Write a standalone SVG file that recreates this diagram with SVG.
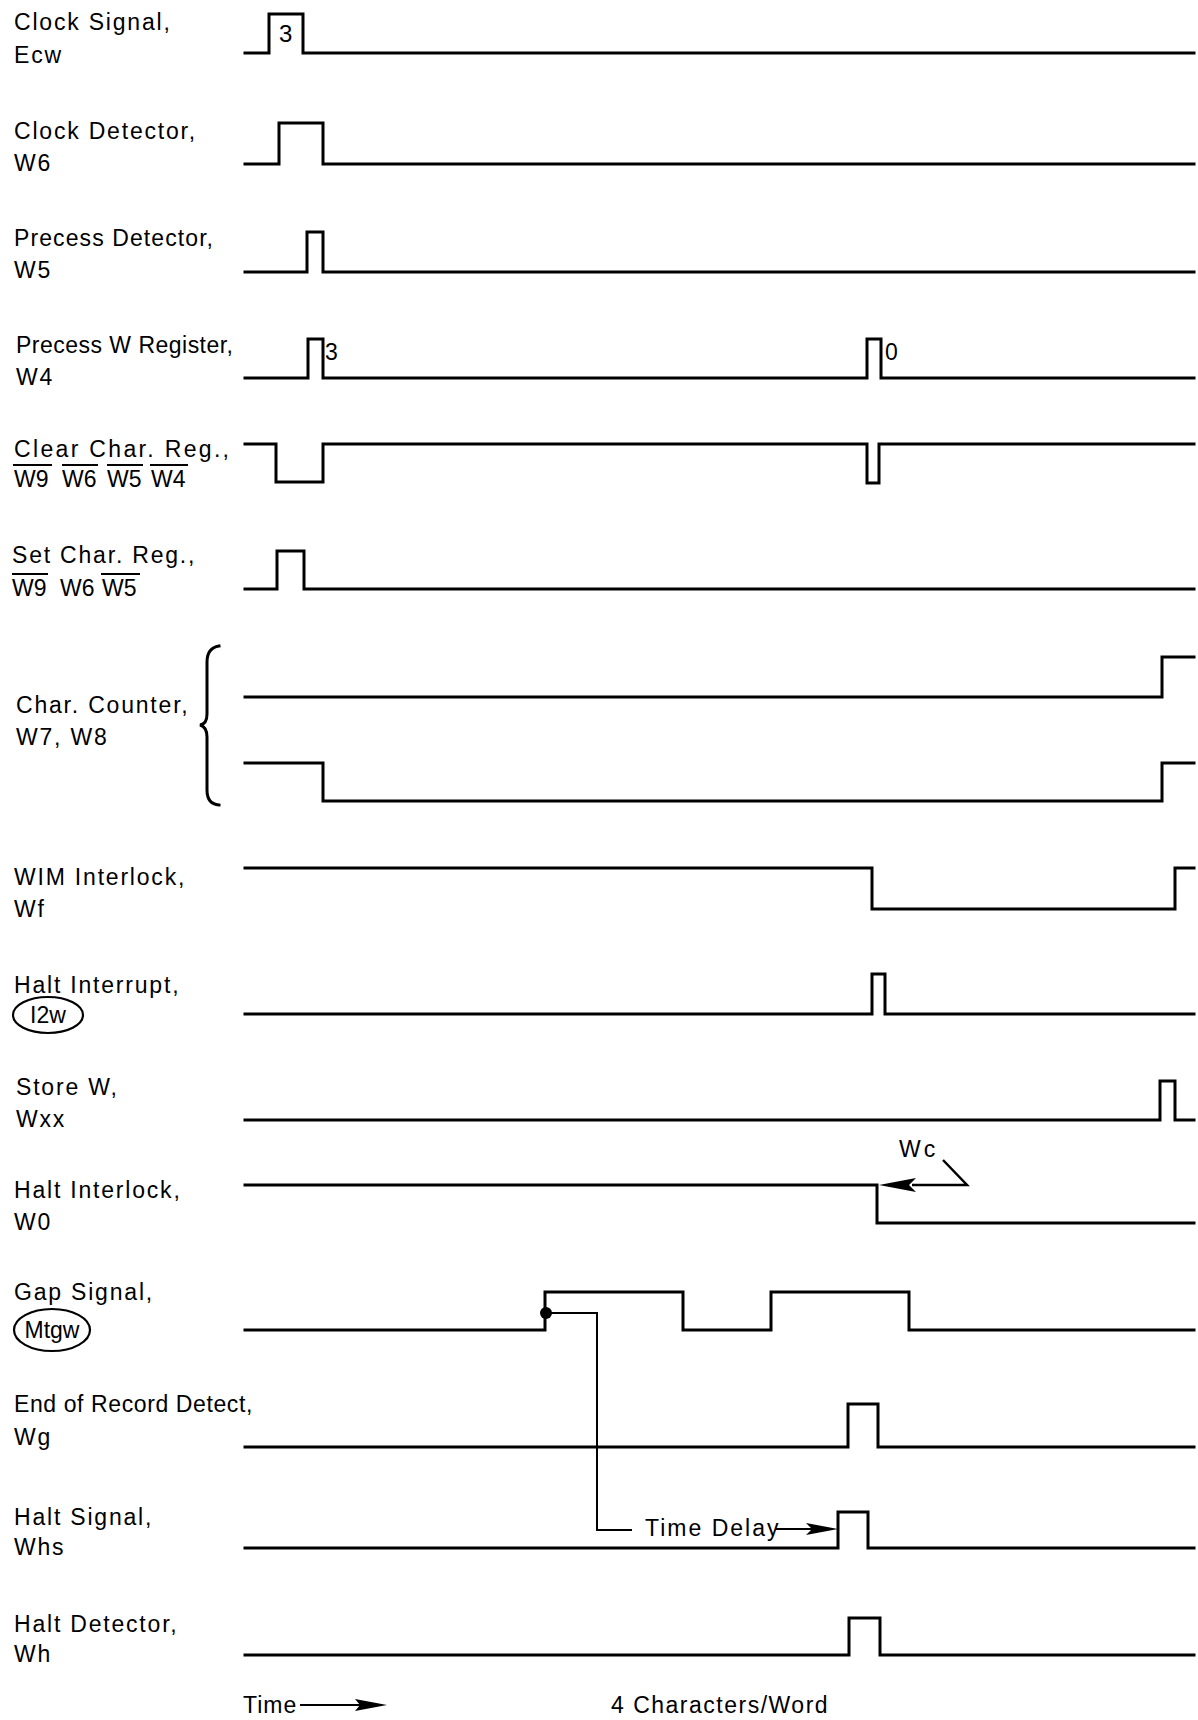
<svg xmlns="http://www.w3.org/2000/svg" width="1198" height="1720" viewBox="0 0 1198 1720">
<style>
.bg{fill:#fff}
.sig{fill:none;stroke:#000;stroke-width:3;stroke-linejoin:miter;stroke-linecap:square}
.con{fill:none;stroke:#000;stroke-width:2}
.lbl{font-family:"Liberation Sans",Arial,sans-serif;font-size:23px;letter-spacing:1.8px;fill:#000}
.sm{font-family:"Liberation Sans",Arial,sans-serif;font-size:23px;fill:#000}
.w{letter-spacing:0}
.bar{stroke:#000;stroke-width:2}
.ell{fill:none;stroke:#000;stroke-width:2.2}
</style>
<rect class="bg" x="0" y="0" width="1198" height="1720"/>

<g id="clock-signal">
<text class="lbl" x="14" y="30">Clock Signal,</text>
<text class="lbl" x="14" y="63">Ecw</text>
<path class="sig" d="M245,53 H269 V14 H303 V53 H1194"/>
<text class="sm" x="279" y="42" style="font-size:24px">3</text>
</g>

<g id="clock-detector">
<text class="lbl" x="14" y="139">Clock Detector,</text>
<text class="lbl" x="14" y="171">W6</text>
<path class="sig" d="M245,164 H279 V123 H323 V164 H1194"/>
</g>

<g id="precess-detector">
<text class="lbl" x="14" y="246" style="letter-spacing:0" textLength="199" lengthAdjust="spacing">Precess Detector,</text>
<text class="lbl" x="14" y="278">W5</text>
<path class="sig" d="M245,272 H307 V232 H323 V272 H1194"/>
</g>

<g id="precess-w-register">
<text class="lbl" x="16" y="353" style="letter-spacing:0" textLength="217" lengthAdjust="spacing">Precess W Register,</text>
<text class="lbl" x="16" y="385">W4</text>
<path class="sig" d="M245,378 H308 V339 H323 V378 H867 V339 H881 V378 H1194"/>
<text class="sm" x="325" y="360">3</text>
<text class="sm" x="885" y="360">0</text>
</g>

<g id="clear-char-reg">
<text class="lbl" x="14" y="457" style="letter-spacing:0" textLength="215" lengthAdjust="spacing">Clear Char. Reg.,</text>
<text class="lbl w" x="14" y="487">W9</text>
<text class="lbl w" x="62" y="487">W6</text>
<text class="lbl w" x="107" y="487">W5</text>
<text class="lbl w" x="151" y="487">W4</text>
<line class="bar" x1="13" y1="465" x2="52" y2="465"/>
<line class="bar" x1="62" y1="465" x2="98" y2="465"/>
<line class="bar" x1="107" y1="465" x2="143" y2="465"/>
<line class="bar" x1="150" y1="465" x2="188" y2="465"/>
<path class="sig" d="M245,444 H276 V482 H323 V444 H867 V483 H879 V444 H1194"/>
</g>

<g id="set-char-reg">
<text class="lbl" x="12" y="563">Set Char. Reg.,</text>
<text class="lbl w" x="12" y="596">W9</text>
<text class="lbl w" x="60" y="596">W6</text>
<text class="lbl w" x="102" y="596">W5</text>
<line class="bar" x1="12" y1="574" x2="48" y2="574"/>
<line class="bar" x1="101" y1="574" x2="140" y2="574"/>
<path class="sig" d="M245,589 H277 V551 H304 V589 H1194"/>
</g>

<g id="char-counter">
<text class="lbl" x="16" y="713">Char. Counter,</text>
<text class="lbl" x="16" y="745">W7, W8</text>
<path class="sig" d="M219,646 Q207,648 207,662 V714 Q207,724 200,725 Q207,727 207,737 V790 Q207,804 219,805"/>
<path class="sig" d="M245,697 H1162 V657 H1194"/>
<path class="sig" d="M245,763 H323 V801 H1162 V763 H1194"/>
</g>

<g id="wim-interlock">
<text class="lbl" x="14" y="885">WIM Interlock,</text>
<text class="lbl" x="14" y="917">Wf</text>
<path class="sig" d="M245,868 H872 V909 H1175 V868 H1194"/>
</g>

<g id="halt-interrupt">
<text class="lbl" x="14" y="993">Halt Interrupt,</text>
<ellipse class="ell" cx="48" cy="1015" rx="35" ry="18"/>
<text class="lbl w" x="48" y="1023" text-anchor="middle">I2w</text>
<path class="sig" d="M245,1014 H872 V974 H885 V1014 H1194"/>
</g>

<g id="store-w">
<text class="lbl" x="16" y="1095">Store W,</text>
<text class="lbl" x="16" y="1127">Wxx</text>
<path class="sig" d="M245,1120 H1160 V1081 H1175 V1120 H1194"/>
</g>

<g id="halt-interlock">
<text class="lbl" x="14" y="1198">Halt Interlock,</text>
<text class="lbl" x="14" y="1230">W0</text>
<path class="sig" d="M245,1185 H877 V1223 H1194"/>
</g>

<g id="gap-signal">
<text class="lbl" x="14" y="1300">Gap Signal,</text>
<ellipse class="ell" cx="52" cy="1330" rx="38" ry="21"/>
<text class="lbl w" x="52" y="1338" text-anchor="middle">Mtgw</text>
<path class="sig" d="M245,1330 H545 V1292 H683 V1330 H771 V1292 H909 V1330 H1194"/>
</g>

<g id="end-of-record-detect">
<text class="lbl" x="14" y="1412" style="letter-spacing:0.6px">End of Record Detect,</text>
<text class="lbl" x="14" y="1445">Wg</text>
<path class="sig" d="M245,1447 H848 V1404 H878 V1447 H1194"/>
</g>

<g id="halt-signal">
<text class="lbl" x="14" y="1525">Halt Signal,</text>
<text class="lbl" x="14" y="1555">Whs</text>
<path class="sig" d="M245,1548 H838 V1512 H868 V1548 H1194"/>
</g>

<g id="halt-detector">
<text class="lbl" x="14" y="1632">Halt Detector,</text>
<text class="lbl" x="14" y="1662">Wh</text>
<path class="sig" d="M245,1655 H849 V1618 H880 V1655 H1194"/>
</g>

<g id="connectors">
<text class="lbl" x="899" y="1157" style="letter-spacing:3px">Wc</text>
<polyline class="con" points="943,1160 967,1185 912,1185" style="stroke-width:2.5"/>
<polygon points="879,1185 916,1178 909,1185 916,1192" fill="#000"/>
<circle cx="546" cy="1313" r="6" fill="#000"/>
<polyline class="con" points="546,1313 597,1313 597,1530 632,1530"/>
<text class="lbl" x="645" y="1536" style="letter-spacing:2px">Time Delay</text>
<line class="con" x1="775" y1="1529" x2="815" y2="1529"/>
<polygon points="838,1529 806,1523 812,1529 806,1535" fill="#000"/>
</g>

<g id="footer">
<text class="lbl" x="243" y="1713" style="letter-spacing:1px">Time</text>
<line class="con" x1="300" y1="1705" x2="365" y2="1705"/>
<polygon points="387,1705 355,1699 360,1705 355,1711" fill="#000"/>
<text class="lbl" x="611" y="1713" style="letter-spacing:1.5px">4 Characters/Word</text>
</g>
</svg>
